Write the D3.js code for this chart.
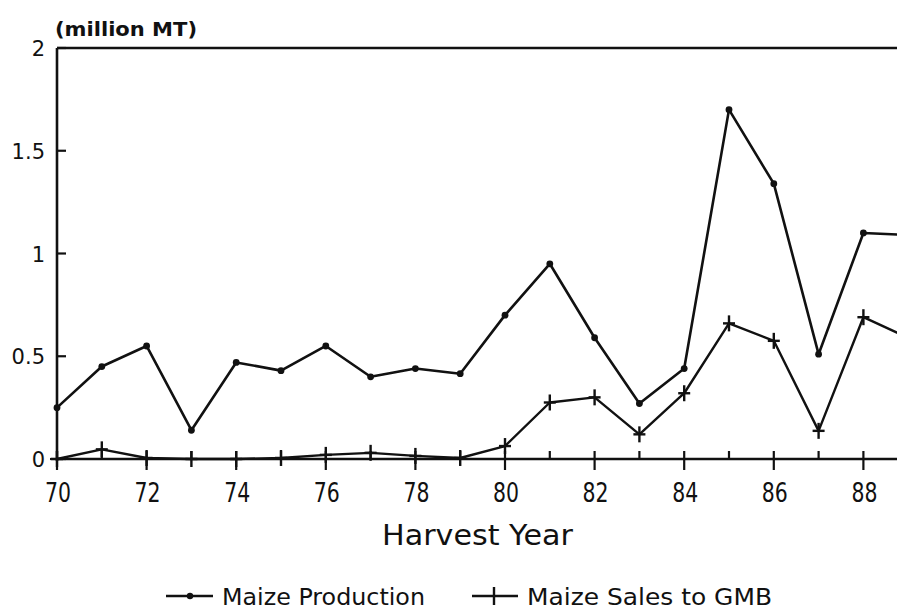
<!DOCTYPE html>
<html>
<head>
<meta charset="utf-8">
<script src="https://cdn.jsdelivr.net/npm/d3@7"></script>
<style>
  body { margin: 0; background: #fff; }
  svg { display: block; font-family: 'DejaVu Sans', sans-serif; }
</style>
</head>
<body>
<svg id="chart" width="897" height="612"></svg>
<script>
// harvest years (19xx)
const years = [70, 71, 72, 73, 74, 75, 76, 77, 78, 79, 80, 81, 82, 83, 84, 85, 86, 87, 88, 89];
// million MT
const production = [0.25, 0.45, 0.55, 0.14, 0.47, 0.43, 0.55, 0.40, 0.44, 0.415, 0.70, 0.95, 0.59, 0.27, 0.44, 1.70, 1.34, 0.51, 1.10, 1.09];
const salesGMB = [0.0, 0.047, 0.005, 0.0, 0.0, 0.005, 0.02, 0.03, 0.015, 0.005, 0.063, 0.275, 0.30, 0.12, 0.32, 0.66, 0.575, 0.137, 0.69, 0.59];
const yTicks = [0, 0.5, 1, 1.5, 2];
const yTickLabels = ['0', '0.5', '1', '1.5', '2'];
const xLabelYears = [70, 72, 74, 76, 78, 80, 82, 84, 86, 88];

let svg = d3.select('#chart');

// set the ranges (plot runs on past the right edge of the page, as in the scan)
let x = d3.scaleLinear().domain([70, 89]).range([57, 57 + 19 * 44.8]);
let y = d3.scaleLinear().domain([0, 2]).range([459, 48]);

let ink = '#111';

// frame: left axis and top border
svg.append('line')
  .attr('x1', x(70)).attr('x2', x(70))
  .attr('y1', y(2)).attr('y2', y(0) + 2)
  .attr('stroke', ink).attr('stroke-width', 2.6);
svg.append('line')
  .attr('x1', x(70)).attr('x2', 897)
  .attr('y1', y(2)).attr('y2', y(2))
  .attr('stroke', ink).attr('stroke-width', 2.4);

// x axis line
svg.append('line')
  .attr('x1', x(70)).attr('x2', 897)
  .attr('y1', y(0)).attr('y2', y(0))
  .attr('stroke', ink).attr('stroke-width', 2.4);

// x ticks: every year a short inner tick, labelled years cross the axis
svg.append('g').selectAll('line')
  .data(years)
  .join('line')
  .attr('x1', d => x(d)).attr('x2', d => x(d))
  .attr('y1', y(0) - 8)
  .attr('y2', d => d % 2 === 0 ? y(0) + 11 : y(0))
  .attr('stroke', ink).attr('stroke-width', 2.2);

svg.append('g').selectAll('text')
  .data(xLabelYears)
  .join('text')
  .attr('x', d => x(d) + 1)
  .attr('y', 502)
  .attr('text-anchor', 'middle')
  .attr('font-size', 26)
  .attr('textLength', 26)
  .attr('lengthAdjust', 'spacingAndGlyphs')
  .attr('fill', ink)
  .text(d => d);

// y ticks point inward
svg.append('g').selectAll('line')
  .data(yTicks)
  .join('line')
  .attr('x1', d => d === 0 ? x(70) - 7 : x(70))
  .attr('x2', x(70) + 9)
  .attr('y1', d => y(d)).attr('y2', d => y(d))
  .attr('stroke', ink).attr('stroke-width', 2.2);

svg.append('g').selectAll('text')
  .data(yTicks)
  .join('text')
  .attr('x', 45)
  .attr('y', d => y(d) + 8)
  .attr('text-anchor', 'end')
  .attr('font-size', 21)
  .attr('fill', ink)
  .text((d, i) => yTickLabels[i]);

// unit label
svg.append('text')
  .attr('x', 55).attr('y', 36)
  .attr('font-size', 19)
  .attr('font-weight', 600)
  .attr('textLength', 142)
  .attr('lengthAdjust', 'spacingAndGlyphs')
  .attr('fill', ink)
  .text('(million MT)');

// axis title
svg.append('text')
  .attr('x', 382).attr('y', 545)
  .attr('font-size', 29)
  .attr('textLength', 191)
  .attr('lengthAdjust', 'spacingAndGlyphs')
  .attr('fill', ink)
  .text('Harvest Year');

// series lines
let prodLine = d3.line()
  .x((d, i) => x(years[i]))
  .y(d => y(d));

svg.append('path')
  .datum(production)
  .attr('fill', 'none')
  .attr('stroke', ink)
  .attr('stroke-width', 2.6)
  .attr('stroke-linejoin', 'round')
  .attr('d', prodLine);

svg.append('path')
  .datum(salesGMB)
  .attr('fill', 'none')
  .attr('stroke', ink)
  .attr('stroke-width', 2.4)
  .attr('stroke-linejoin', 'round')
  .attr('d', prodLine);

// production markers: small dots
svg.append('g').selectAll('circle')
  .data(production)
  .join('circle')
  .attr('cx', (d, i) => x(years[i]))
  .attr('cy', d => y(d))
  .attr('r', 3.4)
  .attr('fill', ink);

// sales markers: plus signs
let plus = svg.append('g')
  .attr('stroke', ink)
  .attr('stroke-width', 2.4);
plus.selectAll('line.v')
  .data(salesGMB)
  .join('line')
  .attr('class', 'v')
  .attr('x1', (d, i) => x(years[i])).attr('x2', (d, i) => x(years[i]))
  .attr('y1', d => y(d) - 8).attr('y2', d => y(d) + 8);
plus.selectAll('line.h')
  .data(salesGMB)
  .join('line')
  .attr('class', 'h')
  .attr('x1', (d, i) => x(years[i]) - 6).attr('x2', (d, i) => x(years[i]) + 6)
  .attr('y1', d => y(d)).attr('y2', d => y(d));

// legend
let legend = svg.append('g');
let legY = 596;

legend.append('line')
  .attr('x1', 166).attr('x2', 213)
  .attr('y1', legY).attr('y2', legY)
  .attr('stroke', ink).attr('stroke-width', 2.4);
legend.append('circle')
  .attr('cx', 190).attr('cy', legY).attr('r', 3.2)
  .attr('fill', ink);
legend.append('text')
  .attr('x', 222).attr('y', legY + 9)
  .attr('font-size', 23)
  .attr('textLength', 203)
  .attr('lengthAdjust', 'spacingAndGlyphs')
  .attr('fill', ink)
  .text('Maize Production');

legend.append('line')
  .attr('x1', 472).attr('x2', 518)
  .attr('y1', legY).attr('y2', legY)
  .attr('stroke', ink).attr('stroke-width', 2.4);
legend.append('line')
  .attr('x1', 494).attr('x2', 494)
  .attr('y1', legY - 9).attr('y2', legY + 9)
  .attr('stroke', ink).attr('stroke-width', 2.4);
legend.append('text')
  .attr('x', 527).attr('y', legY + 9)
  .attr('font-size', 23)
  .attr('textLength', 245)
  .attr('lengthAdjust', 'spacingAndGlyphs')
  .attr('fill', ink)
  .text('Maize Sales to GMB');
</script>
</body>
</html>
